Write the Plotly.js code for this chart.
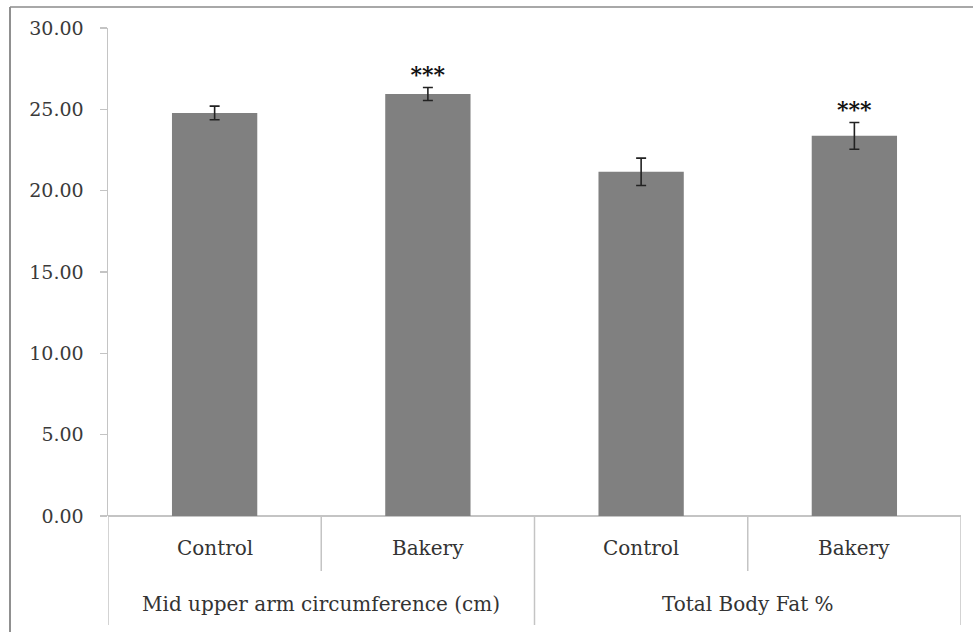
<!DOCTYPE html>
<html>
<head>
<meta charset="utf-8">
<script src="https://cdn.plot.ly/plotly-3.0.1.min.js"></script>
<style>html,body{margin:0;padding:0;background:#fff;}#chart{width:973px;height:632px;}</style>
</head>
<body>
<div id="chart"></div>
<script>
// Data
var groups = ["Mid upper arm circumference (cm)", "Mid upper arm circumference (cm)", "Total Body Fat %", "Total Body Fat %"];
var groupNames = ["Mid upper arm circumference (cm)", "Total Body Fat %"];
var categories = ["Control", "Bakery", "Control", "Bakery"];
var values = [24.78, 25.94, 21.16, 23.37];
var errors = [0.42, 0.40, 0.84, 0.82];
var significance = ["", "***", "", "***"];
var yTickVals = [0, 5, 10, 15, 20, 25, 30];
var yTickText = ["0.00", "5.00", "10.00", "15.00", "20.00", "25.00", "30.00"];

var idx = categories.map(function(_, i){ return i; });
var font = "DejaVu Serif";
var lineCol = "#c4c4c4";

var bars = {
  type: "bar",
  x: idx,
  y: values,
  width: 0.4,
  marker: {color: "#808080", line: {width: 0}},
  error_y: {type: "data", array: errors, visible: true, color: "#222", thickness: 1.6, width: 5},
  hoverinfo: "skip"
};

var stars = {
  type: "scatter",
  mode: "text",
  x: idx,
  y: values.map(function(v, i){ return v + errors[i]; }),
  text: significance,
  textposition: "top center",
  textfont: {family: font, size: 22, color: "#111", weight: "bold"},
  hoverinfo: "skip"
};

var shapes = [];
var annotations = [];
var yShort = -55 / 488, yLong = -109 / 488;
for (var k = 0; k <= categories.length; k++) {
  var xb = k - 0.5;
  var long = !(k > 0 && k < categories.length && groups[k] === groups[k - 1]);
  shapes.push({type: "line", xref: "x", yref: "paper", x0: xb, x1: xb, y0: 0, y1: long ? yLong : yShort,
    line: {color: lineCol, width: 1.5}});
}
categories.forEach(function(c, i){
  annotations.push({xref: "x", yref: "paper", x: i, y: -32 / 488, text: c, showarrow: false,
    xanchor: "center", yanchor: "middle", font: {family: font, size: 20, color: "#333"}});
});
groupNames.forEach(function(g){
  var members = idx.filter(function(i){ return groups[i] === g; });
  var center = (members[0] + members[members.length - 1]) / 2;
  annotations.push({xref: "x", yref: "paper", x: center, y: -88 / 488, text: g, showarrow: false,
    xanchor: "center", yanchor: "middle", font: {family: font, size: 20, color: "#333"}});
});
shapes.push({type: "line", xref: "paper", yref: "paper", x0: -98 / 853, x1: 1.02, y0: 1 + 21 / 488, y1: 1 + 21 / 488,
  line: {color: "#a8a8a8", width: 2}});
shapes.push({type: "line", xref: "paper", yref: "paper", x0: -98 / 853, x1: -98 / 853, y0: 1 + 21 / 488, y1: -0.25,
  line: {color: "#909090", width: 2}});

var layout = {
  width: 973, height: 632,
  margin: {l: 108, r: 12, t: 28, b: 116},
  paper_bgcolor: "#fff", plot_bgcolor: "#fff",
  showlegend: false,
  font: {family: font},
  xaxis: {range: [-0.5, categories.length - 0.5], showticklabels: false, showgrid: false, zeroline: false,
    showline: false, ticks: "", fixedrange: true},
  yaxis: {range: [0, 30], tickvals: yTickVals, ticktext: yTickText, showgrid: false, zeroline: true,
    zerolinecolor: lineCol, zerolinewidth: 1.5,
    showline: true, linecolor: lineCol, linewidth: 1.5, ticks: "outside", ticklen: 7, tickcolor: lineCol, tickwidth: 1.5,
    ticklabelstandoff: 12,
    tickfont: {family: font, size: 19, color: "#3a3a3a"}, fixedrange: true},
  shapes: shapes,
  annotations: annotations
};

Plotly.newPlot("chart", [bars, stars], layout, {displayModeBar: false, staticPlot: true});
</script>
</body>
</html>
